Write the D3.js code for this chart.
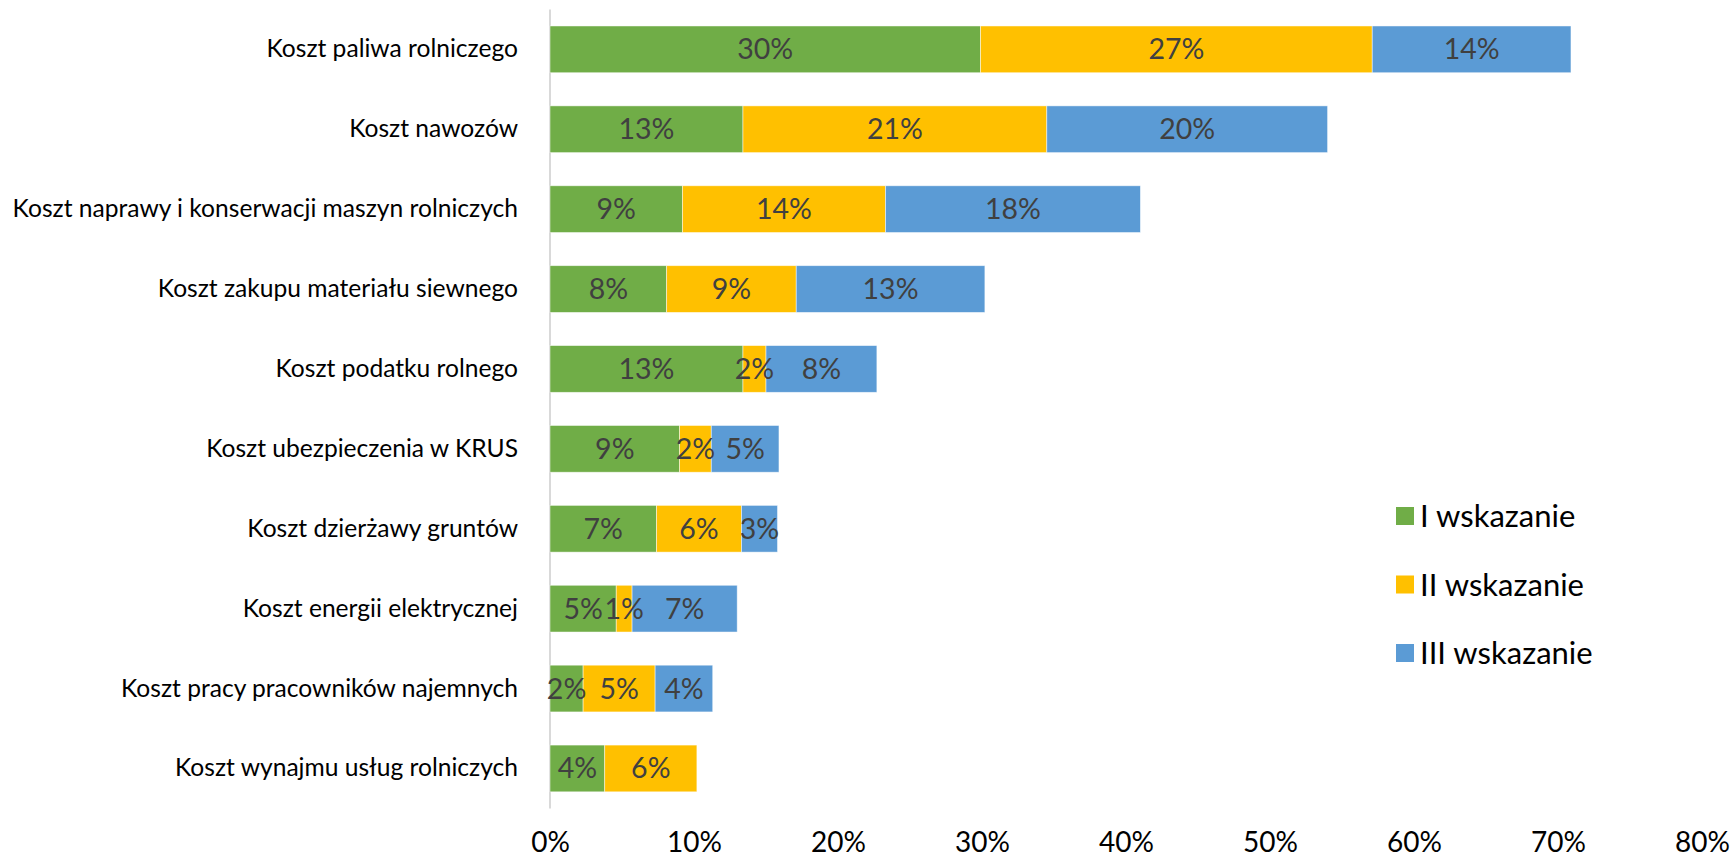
<!DOCTYPE html>
<html>
<head>
<meta charset="utf-8">
<script src="https://cdn.jsdelivr.net/npm/d3@7"></script>
<style>
  body { margin: 0; background: #fff; }
  text { font-family: "Lato", "Open Sans", sans-serif; }
</style>
</head>
<body>
<div id="viz"></div>
<script>
var categories = [
    "Koszt paliwa rolniczego",
    "Koszt nawozów",
    "Koszt naprawy i konserwacji maszyn rolniczych",
    "Koszt zakupu materiału siewnego",
    "Koszt podatku rolnego",
    "Koszt ubezpieczenia w KRUS",
    "Koszt dzierżawy gruntów",
    "Koszt energii elektrycznej",
    "Koszt pracy pracowników najemnych",
    "Koszt wynajmu usług rolniczych"
];

var seriesNames = ["I wskazanie", "II wskazanie", "III wskazanie"];

// values in %
var first  = [29.9, 13.4, 9.2, 8.1, 13.4, 9.0, 7.4, 4.6, 2.3, 3.8];
var second = [27.2, 21.1, 14.1, 9.0, 1.6, 2.2, 5.9, 1.1, 5.0, 6.4];
var third  = [13.8, 19.5, 17.7, 13.1, 7.7, 4.7, 2.5, 7.3, 4.0, 0];

var xTicks = [0, 10, 20, 30, 40, 50, 60, 70, 80];

var colors = ["#70AD47", "#FFC000", "#5B9BD5"];

const width = 1733;
const height = 862;

var rows = categories.map(function (c, i) {
    return { cat: c, s0: first[i], s1: second[i], s2: third[i] };
});

var svg = d3.select("#viz")
    .append("svg")
    .attr("width", width)
    .attr("height", height);

var x = d3.scaleLinear()
    .domain([0, 80])
    .range([550, 1702]);

var y = d3.scaleBand()
    .domain(categories)
    .range([9.4, 808.4])
    .paddingInner(0.415)
    .paddingOuter(0.2075);

var stack = d3.stack().keys(["s0", "s1", "s2"]);
var stacked = stack(rows);

//vertical axis line
svg.append("line")
    .attr("x1", x(0))
    .attr("x2", x(0))
    .attr("y1", y.range()[0])
    .attr("y2", y.range()[1])
    .attr("stroke", "#D9D9D9")
    .attr("stroke-width", 2);

//bars
var layers = svg.append("g").selectAll("g")
    .data(stacked)
    .enter().append("g")
    .attr("fill", function (d, i) {
        return colors[i];
    });

layers.selectAll("rect")
    .data(function (d) { return d; })
    .enter().append("rect")
    .attr("x", function (d) { return x(d[0]); })
    .attr("y", function (d) { return y(d.data.cat); })
    .attr("width", function (d) { return x(d[1]) - x(d[0]); })
    .attr("height", y.bandwidth())
    .attr("stroke", "#fff")
    .attr("stroke-opacity", 0.6)
    .attr("stroke-width", 0.8);

//data labels, drawn on top of all bars
var segments = [];
stacked.forEach(function (layer) {
    layer.forEach(function (p) {
        if (p[1] - p[0] > 0) segments.push(p);
    });
});

svg.append("g").selectAll("text")
    .data(segments)
    .enter().append("text")
    .attr("x", function (d) { return (x(d[0]) + x(d[1])) / 2; })
    .attr("y", function (d) { return y(d.data.cat) + y.bandwidth() / 2 + 10; })
    .attr("text-anchor", "middle")
    .attr("fill", "#404040")
    .style("font-size", "28.5px")
    .text(function (d) { return Math.round(d[1] - d[0]) + "%"; });

//category labels
svg.append("g").selectAll("text")
    .data(categories)
    .enter().append("text")
    .attr("x", 518)
    .attr("y", function (d) { return y(d) + y.bandwidth() / 2 + 8; })
    .attr("text-anchor", "end")
    .attr("fill", "#000")
    .style("font-size", "24.6px")
    .text(function (d) { return d; });

//x tick labels
var xAxis = svg.append("g")
    .attr("transform", "translate(0,852)")
    .call(d3.axisBottom(x).tickValues(xTicks).tickSize(0).tickPadding(0)
        .tickFormat(function (d) { return d + "%"; }));

xAxis.select(".domain").remove();
xAxis.selectAll("text")
    .attr("dy", 0)
    .attr("fill", "#000")
    .style("font-family", "Lato, sans-serif")
    .style("font-size", "28px");

//legend
var legend = svg.append("g").selectAll("g")
    .data(seriesNames)
    .enter().append("g")
    .attr("transform", function (d, i) {
        return "translate(1396," + (507 + i * 68.5) + ")";
    });

legend.append("rect")
    .attr("width", 18)
    .attr("height", 18)
    .attr("fill", function (d, i) { return colors[i]; });

legend.append("text")
    .attr("x", 24)
    .attr("y", 20)
    .attr("fill", "#000")
    .style("font-size", "31px")
    .text(function (d) { return d; });
</script>
</body>
</html>
